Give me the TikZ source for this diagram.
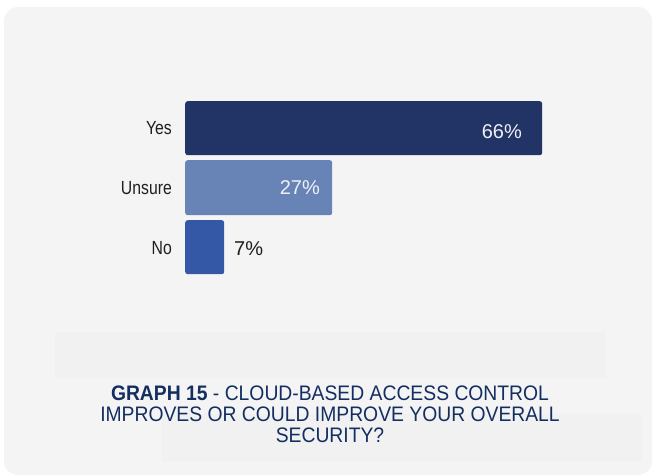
\documentclass[tikz,border=0pt]{standalone}
\usepackage{fontspec}
\setmainfont{Liberation Sans}
\newfontfamily\labelfont[FakeStretch=0.83]{Liberation Sans}
\newfontfamily\capfont[FakeStretch=0.92]{Liberation Sans}
\usetikzlibrary{positioning}
\definecolor{yescol}{HTML}{223366}
\definecolor{unsurecol}{HTML}{6884B6}
\definecolor{nocol}{HTML}{3558A6}
\definecolor{panelcol}{HTML}{F4F4F4}
\definecolor{ghostcol}{HTML}{F1F1F1}
\definecolor{captioncol}{HTML}{142E62}
\definecolor{valcol}{HTML}{EEF0F6}
\tikzstyle{bar}=[shape=rectangle, inner sep=0pt, anchor=north west, rounded corners=2.5pt]
\tikzstyle{cat}=[anchor=base east, inner sep=0pt, text=black!88, font=\labelfont\fontsize{19}{19}\selectfont]
\tikzstyle{val}=[inner sep=0pt, font=\fontsize{20}{20}\selectfont]

\begin{document}
\begin{tikzpicture}[x=1pt,y=-1pt]
\useasboundingbox (0,0) rectangle (653,476);
% panel
\fill[panelcol, rounded corners=14pt] (4,7) rectangle (652,475);
\fill[ghostcol] (55,332) rectangle (606,378);
\fill[ghostcol] (161,414) rectangle (642,461);

\node (yes) [bar, fill=yescol, minimum width=357pt, minimum height=54pt] at (185,101) {};
\node (unsure) [bar, fill=unsurecol, minimum width=147pt, minimum height=55pt] at (185,160) {};
\node (no) [bar, fill=nocol, minimum width=39pt, minimum height=54pt] at (185,220) {};

\node (lyes) [cat] at (172,134.3) {Yes};
\node (lunsure) [cat] at (172,194.3) {Unsure};
\node (lno) [cat] at (172,254.3) {No};

\node (pyes) [val, text=valcol, anchor=base east] at (522,138.3) {66\%};
\node (punsure) [val, text=valcol, anchor=base east] at (320,194.3) {27\%};
\node (pno) [val, text=black!88, anchor=base west] at (234,255.5) {7\%};

% caption
\node (caption) [anchor=north, inner sep=0pt, align=center, text=captioncol,
  font=\capfont\fontsize{21}{21}\selectfont] at (330,386)
  {{\bfseries GRAPH 15} - CLOUD-BASED ACCESS CONTROL\\IMPROVES OR COULD IMPROVE YOUR OVERALL\\SECURITY?};
\end{tikzpicture}
\end{document}
